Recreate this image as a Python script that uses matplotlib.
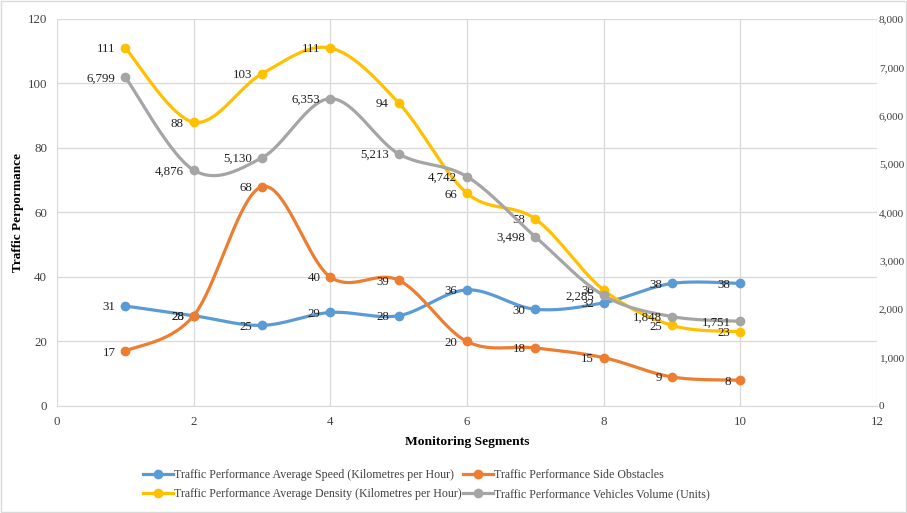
import numpy as np
import matplotlib
matplotlib.use("Agg")
import matplotlib.pyplot as plt
from matplotlib.lines import Line2D
from matplotlib.patches import Rectangle
from matplotlib.ticker import FuncFormatter

plt.rcParams['font.family'] = ['Liberation Serif', 'DejaVu Serif']

segments = [1, 2, 3, 4, 5, 6, 7, 8, 9, 10]
avg_speed = [31, 28, 25, 29, 28, 36, 30, 32, 38, 38]
side_obstacles = [17, 28, 68, 40, 39, 20, 18, 15, 9, 8]
avg_density = [111, 88, 103, 111, 94, 66, 58, 36, 25, 23]
vehicle_volume = [6799, 4876, 5130, 6353, 5213, 4742, 3498, 2285, 1848, 1751]

names = ["Traffic Performance Average Speed (Kilometres per Hour)",
         "Traffic Performance Side Obstacles",
         "Traffic Performance Average Density (Kilometres per Hour)",
         "Traffic Performance Vehicles Volume (Units)"]
colors = ["#5B9BD5", "#ED7D31", "#FFC000", "#A5A5A5"]


def smooth(x, y, n=40):
    """Cubic Bezier smoothing through every point (Catmull-Rom control points)."""
    x = np.asarray(x, float)
    y = np.asarray(y, float)
    px = np.concatenate([[x[0]], x, [x[-1]]])
    py = np.concatenate([[y[0]], y, [y[-1]]])
    xs, ys = [], []
    t = np.linspace(0, 1, n)
    for i in range(len(x) - 1):
        p0 = np.array([px[i + 1], py[i + 1]])
        p3 = np.array([px[i + 2], py[i + 2]])
        c1 = p0 + (np.array([px[i + 2], py[i + 2]]) - np.array([px[i], py[i]])) / 6.0
        c2 = p3 - (np.array([px[i + 3], py[i + 3]]) - np.array([px[i + 1], py[i + 1]])) / 6.0
        b = ((1 - t) ** 3)[:, None] * p0 + (3 * (1 - t) ** 2 * t)[:, None] * c1 \
            + (3 * (1 - t) * t ** 2)[:, None] * c2 + (t ** 3)[:, None] * p3
        xs.append(b[:, 0])
        ys.append(b[:, 1])
    return np.concatenate(xs), np.concatenate(ys)


fig = plt.figure(figsize=(9.07, 5.13), dpi=100)
ax = fig.add_axes([0.0628, 0.2086, 0.904, 0.7544])
ax2 = ax.twinx()

ax.set_xlim(0, 12)
ax.set_ylim(0, 120)
ax2.set_ylim(0, 8000)
ax.set_xticks(range(0, 13, 2))
ax.set_yticks(range(0, 121, 20))
ax2.set_yticks(range(0, 8001, 1000))
ax2.yaxis.set_major_formatter(FuncFormatter(lambda v, p: f"{int(v):,}"))

grid_c = "#D9D9D9"
ax.grid(True, color=grid_c, linewidth=0.9)
ax.set_axisbelow(True)
for a in (ax, ax2):
    for s in a.spines.values():
        s.set_visible(False)
    a.tick_params(length=0, labelsize=9.3, colors="#404040")
ax.spines['bottom'].set_visible(True)
ax.spines['bottom'].set_color(grid_c)
ax.tick_params(axis='y', pad=7)
ax.tick_params(axis='x', pad=7)
ax2.tick_params(axis='y', pad=1.5, labelsize=8.2)

ax.set_ylabel("Traffic Perpormance", fontsize=9.5, fontweight='bold', labelpad=3)
ax.set_xlabel("Monitoring Segments", fontsize=9.7, fontweight='bold', labelpad=6)

lw, ms = 2.3, 6
series = [(ax, avg_speed, False), (ax, side_obstacles, False),
          (ax, avg_density, False), (ax2, vehicle_volume, True)]
for (a, vals, comma), c in zip(series, colors):
    sx, sy = smooth(segments, vals)
    a.plot(sx, sy, color=c, linewidth=lw, solid_capstyle='round', zorder=3)
    a.plot(segments, vals, 'o', color=c, markersize=ms, zorder=4)
    for xv, yv in zip(segments, vals):
        txt = f"{yv:,}" if comma else f"{yv}"
        a.annotate(txt, (xv, yv), xytext=(-7, -1), textcoords='offset points',
                   ha='right', va='center', fontsize=9.3, color="#202020", zorder=5)

handles = [Line2D([0], [0], color=c, linewidth=lw, marker='o', markersize=ms)
           for c in colors]
order = [0, 2, 1, 3]
fig.legend([handles[i] for i in order], [names[i] for i in order],
           loc='center', bbox_to_anchor=(0.47, 0.0555), ncol=2, frameon=False,
           fontsize=8.6, handlelength=2.5, handletextpad=0.1, columnspacing=0.1,
           labelspacing=0.55, labelcolor="#404040")

fig.patches.append(Rectangle((0.001, 0.001), 0.998, 0.997, transform=fig.transFigure,
                             fill=False, edgecolor="#D9D9D9", linewidth=1.0))

fig.savefig("out.png", dpi=100)
